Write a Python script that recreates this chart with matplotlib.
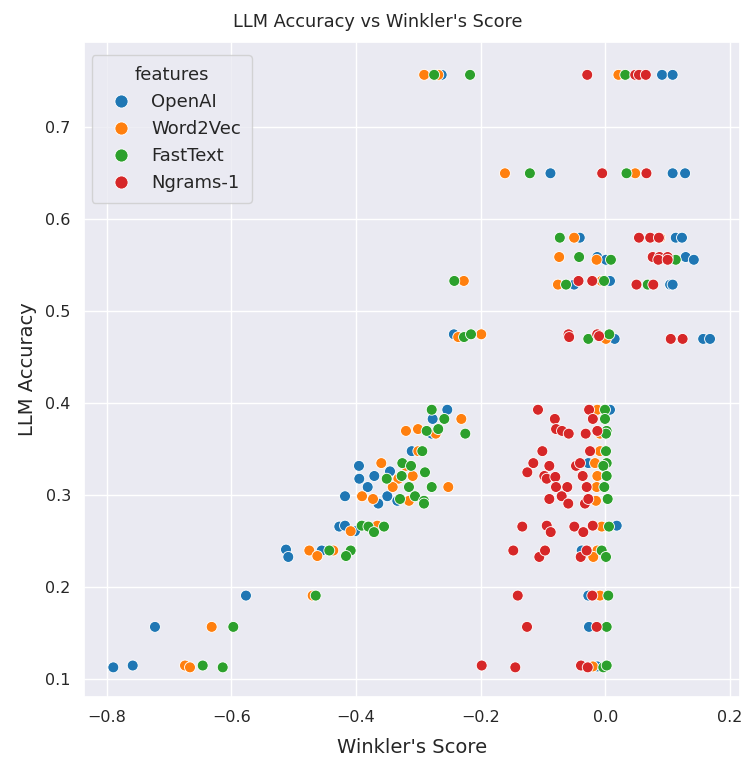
import numpy as np
import matplotlib
matplotlib.use("Agg")
import matplotlib.pyplot as plt
import pandas as pd
import seaborn as sns

# Winkler's score (x) and LLM accuracy (y) for each feature set
openai_x = [-0.2625, 0.091, 0.108, -0.088, 0.108, 0.128, -0.041, 0.113, 0.123,
            -0.013, 0.129, 0.001, 0.142, 0.0075, -0.050, 0.104, 0.108, -0.243,
            0.015, 0.157, 0.168, -0.2535, 0.0075, -0.277, -0.2785, -0.3106,
            -0.3952, -0.3454, -0.3706, -0.3947, -0.3812, -0.4176, -0.3497,
            -0.3337, -0.3642, -0.0273, -0.4268, -0.4176, -0.4016, 0.0183,
            -0.455, -0.5123, -0.5086, -0.0379, -0.5765, -0.0273, -0.7225,
            -0.0262, -0.7893, -0.7582, -0.0128]
openai_y = [0.757, 0.757, 0.757, 0.650, 0.650, 0.650, 0.580, 0.580, 0.580,
            0.559, 0.559, 0.556, 0.556, 0.533, 0.529, 0.529, 0.529, 0.475,
            0.470, 0.470, 0.470, 0.393, 0.393, 0.383, 0.367, 0.348,
            0.332, 0.326, 0.321, 0.318, 0.309, 0.299, 0.299,
            0.294, 0.291, 0.335, 0.266, 0.267, 0.261, 0.267,
            0.240, 0.241, 0.233, 0.240, 0.191, 0.191, 0.157,
            0.157, 0.113, 0.115, 0.114]

w2v_x = [-0.2906, -0.268, 0.021, -0.161, 0.048, -0.050, 0.088, -0.074, -0.014,
         -0.006, -0.076, -0.227, -0.236, -0.199, 0.001, -0.231, -0.3198,
         -0.3005, -0.272, -0.300, -0.3594, -0.3198, -0.309, -0.332, -0.3411,
         -0.2519, -0.3903, -0.3727, -0.315, -0.0128, -0.0085, -0.0085,
         -0.0165, -0.0128, -0.0138, -0.015, -0.4085, -0.3658, -0.0058,
         -0.4749, -0.4364, -0.462, -0.0128, -0.0193, -0.4695, -0.0085,
         -0.6315, -0.6743, -0.6663, -0.020]
w2v_y = [0.757, 0.757, 0.757, 0.650, 0.650, 0.580, 0.580, 0.559, 0.556,
         0.533, 0.529, 0.533, 0.472, 0.475, 0.470, 0.383, 0.370,
         0.372, 0.367, 0.348, 0.335, 0.332, 0.321, 0.318, 0.309,
         0.309, 0.299, 0.296, 0.294, 0.393, 0.367, 0.348,
         0.335, 0.321, 0.309, 0.294, 0.261, 0.267, 0.266,
         0.240, 0.240, 0.234, 0.240, 0.233, 0.191, 0.191,
         0.157, 0.115, 0.113, 0.114]

fasttext_x = [-0.2746, -0.217, 0.032, -0.121, 0.034, -0.073, -0.042, 0.009, 0.113,
              -0.002, -0.063, 0.068, -0.2423, -0.2267, -0.2155, -0.0273, 0.0064,
              -0.2785, -0.2583, -0.2866, -0.268, -0.2246, -0.2936, -0.3257,
              -0.3117, -0.2893, -0.3507, -0.3267, -0.315, -0.2785, -0.3294,
              -0.3053, -0.2909, -0.2909, -0.0005, -0.0005, 0.0022, 0.0011,
              0.0011, 0.0022, -0.0032, 0.0022, -0.0016, 0.0038, 0.0059,
              -0.3908, -0.380, -0.3711, -0.355, -0.4428, -0.4085, -0.416,
              -0.0058, 0.0011, -0.4646, 0.0048, -0.5968, 0.0022, -0.6459,
              -0.6138, -0.0032, 0.0022]
fasttext_y = [0.757, 0.757, 0.757, 0.650, 0.650, 0.580, 0.559, 0.556, 0.556,
              0.533, 0.529, 0.529, 0.533, 0.472, 0.475, 0.470, 0.475,
              0.393, 0.383, 0.370, 0.372, 0.367, 0.348, 0.335,
              0.332, 0.325, 0.318, 0.321, 0.309, 0.309, 0.296,
              0.299, 0.294, 0.291, 0.393, 0.383, 0.370, 0.367,
              0.348, 0.335, 0.332, 0.321, 0.309, 0.296, 0.266,
              0.267, 0.266, 0.260, 0.266, 0.240, 0.240, 0.234,
              0.240, 0.233, 0.191, 0.191, 0.157, 0.157, 0.115,
              0.113, 0.113, 0.115]

ngrams_x = [-0.029, 0.048, 0.054, 0.065, -0.005, 0.066, 0.054, 0.072, 0.086,
            0.076, 0.087, 0.100, 0.085, 0.100, -0.043, -0.021, 0.050, 0.077,
            -0.059, -0.058, -0.013, -0.010, 0.105, 0.124, -0.108, -0.026,
            -0.081, -0.020, -0.079, -0.0695, -0.0587, -0.0315, -0.0128,
            -0.101, -0.0245, -0.1155, -0.0898, -0.047, -0.0406, -0.1251,
            -0.0979, -0.094, -0.0802, -0.0363, -0.0791, -0.061, -0.0299,
            -0.0898, -0.070, -0.0594, -0.0326, -0.0273, -0.1332, -0.094,
            -0.0876, -0.0497, -0.0353, -0.0202, -0.1476, -0.1059, -0.0967,
            -0.0395, -0.0299, -0.1405, -0.0209, -0.1256, -0.0138, -0.1983,
            -0.1444, -0.039, -0.0282]
ngrams_y = [0.757, 0.757, 0.757, 0.757, 0.650, 0.650, 0.580, 0.580, 0.580,
            0.559, 0.559, 0.559, 0.556, 0.556, 0.533, 0.533, 0.529, 0.529,
            0.475, 0.472, 0.475, 0.473, 0.470, 0.470, 0.393, 0.393,
            0.383, 0.383, 0.372, 0.370, 0.367, 0.367, 0.370,
            0.348, 0.348, 0.335, 0.332, 0.332, 0.335, 0.325,
            0.321, 0.318, 0.320, 0.321, 0.309, 0.309, 0.309,
            0.296, 0.299, 0.291, 0.291, 0.296, 0.266, 0.267,
            0.260, 0.266, 0.260, 0.267, 0.240, 0.233, 0.240,
            0.233, 0.240, 0.191, 0.191, 0.157, 0.157, 0.115,
            0.113, 0.115, 0.113]

features = ["OpenAI", "Word2Vec", "FastText", "Ngrams-1"]
xs = [openai_x, w2v_x, fasttext_x, ngrams_x]
ys = [openai_y, w2v_y, fasttext_y, ngrams_y]

rows = []
for name, fx, fy in zip(features, xs, ys):
    for a, b in zip(fx, fy):
        rows.append({"Winkler's Score": a, "LLM Accuracy": b, "features": name})
df = pd.DataFrame(rows)

sns.set_theme(style="darkgrid")
fig = plt.figure(figsize=(7.49, 7.58), dpi=100)
ax = fig.add_axes([0.1121, 0.0805, 0.8759, 0.8641])
sns.scatterplot(data=df, x="Winkler's Score", y="LLM Accuracy", hue="features",
                hue_order=features, palette="tab10", s=62, ax=ax)
ax.set_xlim(-0.8364, 0.2161)
ax.set_ylim(0.0808, 0.7927)
fig.suptitle("LLM Accuracy vs Winkler's Score", fontsize=12.8, x=0.505, y=0.971,
             va="center")
ax.set_xlabel("Winkler's Score", fontsize=14, labelpad=9)
ax.set_ylabel("LLM Accuracy", fontsize=14, labelpad=6)
ax.tick_params(labelsize=11.5)
ax.legend(title="features", loc="upper left", bbox_to_anchor=(0.012, 0.98),
          borderaxespad=0, fontsize=13, title_fontsize=13, markerscale=1.2,
          borderpad=0.6, handletextpad=0.7)
fig.savefig("out.png", dpi=100)
